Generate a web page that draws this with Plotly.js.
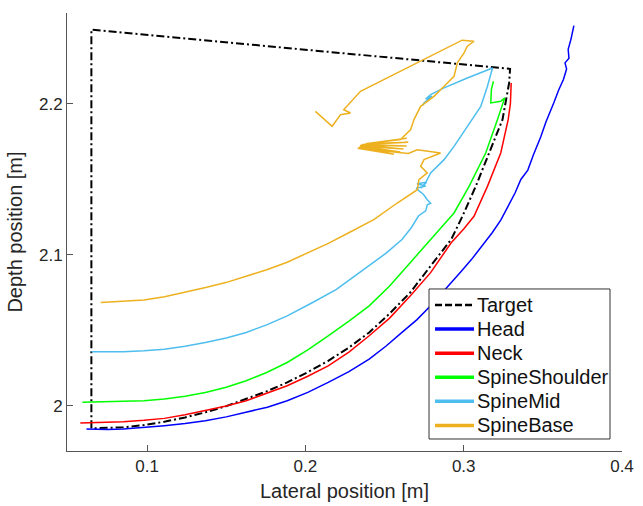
<!DOCTYPE html>
<html>
<head>
<meta charset="utf-8">
<script src="https://cdn.plot.ly/plotly-3.0.1.min.js"></script>
<style>html,body{margin:0;padding:0;background:#fff;}#chart{width:643px;height:506px;}</style>
</head>
<body>
<div id="chart"></div>
<script>
// ---- Data ----
var seriesNames = ["Target", "Head", "Neck", "SpineShoulder", "SpineMid", "SpineBase"];

var targetX = [0.0648,0.0648,0.3293,0.3287,0.3245,0.3160,0.3076,0.2992,0.2921,0.2791,0.2662,0.2532,0.2403,0.2275,0.2144,0.2015,0.1885,0.1755,0.1626,0.1500,0.1368,0.1240,0.1109,0.0980,0.0850,0.0648];
var targetY = [1.9850,2.2490,2.2230,2.2137,2.1894,2.1673,2.1452,2.1254,2.1101,2.0925,2.0749,2.0610,2.0485,2.0385,2.0297,2.0222,2.0154,2.0095,2.0044,1.9997,1.9956,1.9922,1.9894,1.9872,1.9857,1.9850];

var headX = [0.0617,0.0750,0.0850,0.0980,0.1109,0.1240,0.1368,0.1500,0.1626,0.1760,0.1885,0.2015,0.2144,0.2275,0.2403,0.2510,0.2610,0.2705,0.2791,0.2860,0.2921,0.2985,0.3050,0.3115,0.3180,0.3235,0.3283,0.3325,0.3361,0.3405,0.3440,0.3487,0.3520,0.3545,0.3570,0.3600,0.3630,0.3650,0.3640,0.3665,0.3660,0.3677,0.3690,0.3696];
var headY = [1.9846,1.9843,1.9846,1.9855,1.9868,1.9882,1.9901,1.9926,1.9956,1.9990,2.0033,2.0088,2.0154,2.0226,2.0308,2.0395,2.0485,2.0570,2.0661,2.0740,2.0815,2.0890,2.0969,2.1055,2.1145,2.1230,2.1322,2.1410,2.1498,2.1560,2.1660,2.1780,2.1880,2.1940,2.2007,2.2090,2.2160,2.2230,2.2270,2.2300,2.2360,2.2424,2.2480,2.2517];

var neckX = [0.0578,0.0700,0.0850,0.0980,0.1109,0.1240,0.1368,0.1500,0.1626,0.1755,0.1885,0.2015,0.2144,0.2275,0.2403,0.2532,0.2662,0.2791,0.2921,0.3000,0.3065,0.3150,0.3234,0.3281,0.3295,0.3300];
var neckY = [1.9885,1.9888,1.9894,1.9903,1.9916,1.9940,1.9967,1.9998,2.0033,2.0080,2.0132,2.0195,2.0264,2.0355,2.0463,2.0580,2.0727,2.0881,2.1079,2.1170,2.1254,2.1452,2.1673,2.1894,2.2000,2.2137];

var shoulderX = [0.0591,0.0720,0.0850,0.0980,0.1109,0.1240,0.1368,0.1500,0.1626,0.1755,0.1885,0.2015,0.2144,0.2275,0.2403,0.2532,0.2662,0.2791,0.2870,0.2939,0.3034,0.3139,0.3213,0.3259,0.3234,0.3171,0.3175,0.3188];
var shoulderY = [2.0022,2.0024,2.0026,2.0033,2.0044,2.0062,2.0088,2.0122,2.0165,2.0220,2.0286,2.0370,2.0463,2.0560,2.0661,2.0793,2.0947,2.1101,2.1200,2.1276,2.1452,2.1673,2.1894,2.2038,2.2015,2.2005,2.2095,2.2148];

var midX = [0.0648,0.0750,0.0850,0.0980,0.1109,0.1240,0.1368,0.1500,0.1626,0.1755,0.1885,0.2040,0.2196,0.2300,0.2400,0.2510,0.2610,0.2670,0.2714,0.2760,0.2770,0.2791,0.2770,0.2745,0.2720,0.2700,0.2760,0.2705,0.2765,0.2730,0.2759,0.2791,0.2834,0.2876,0.2939,0.3023,0.3108,0.3150,0.3182,0.3023,0.2876,0.2791,0.2760,0.2800,0.2749,0.2739];
var midY = [2.0357,2.0357,2.0357,2.0364,2.0374,2.0394,2.0418,2.0448,2.0485,2.0535,2.0595,2.0680,2.0770,2.0850,2.0925,2.1010,2.1100,2.1180,2.1256,2.1290,2.1330,2.1340,2.1364,2.1400,2.1420,2.1440,2.1455,2.1470,2.1480,2.1440,2.1475,2.1541,2.1585,2.1629,2.1717,2.1850,2.1982,2.2115,2.2236,2.2170,2.2104,2.2060,2.2030,2.2050,2.2005,2.1987];

var baseX = [0.0707,0.0850,0.0980,0.1110,0.1238,0.1370,0.1497,0.1626,0.1756,0.1885,0.2015,0.2145,0.2274,0.2432,0.2580,0.2707,0.2717,0.2770,0.2728,0.2749,0.2854,0.2707,0.2650,0.2330,0.2560,0.2340,0.2600,0.2345,0.2620,0.2350,0.2640,0.2360,0.2650,0.2380,0.2640,0.2420,0.2601,0.2665,0.2686,0.2728,0.2812,0.2876,0.2939,0.2960,0.3002,0.3023,0.3065,0.2990,0.2348,0.2242,0.2285,0.2222,0.2169,0.2063];
var baseY = [2.0683,2.0690,2.0700,2.0722,2.0750,2.0782,2.0815,2.0855,2.0900,2.0950,2.1010,2.1075,2.1145,2.1232,2.1342,2.1430,2.1497,2.1541,2.1585,2.1629,2.1673,2.1695,2.1670,2.1705,2.1665,2.1712,2.1680,2.1720,2.1700,2.1725,2.1720,2.1730,2.1745,2.1735,2.1770,2.1740,2.1762,2.1828,2.1894,2.1982,2.2048,2.2115,2.2181,2.2270,2.2336,2.2380,2.2413,2.2420,2.2082,2.1960,2.1938,2.1927,2.1850,2.1949];

var xTickVals = [0.1, 0.2, 0.3, 0.4];
var xTickText = ["0.1", "0.2", "0.3", "0.4"];
var yTickVals = [2, 2.1, 2.2];
var yTickText = ["2", "2.1", "2.2"];

// ---- Styles ----
var colors = ["#000000", "#0000FF", "#FF0000", "#00FF00", "#4DBEEE", "#EDB120"];
var xs = [targetX, headX, neckX, shoulderX, midX, baseX];
var ys = [targetY, headY, neckY, shoulderY, midY, baseY];
var FONT = "Liberation Sans, Arial, Helvetica, sans-serif";

var traces = [];
for (var i = 0; i < seriesNames.length; i++) {
  traces.push({
    x: xs[i], y: ys[i], type: "scatter", mode: "lines",
    name: seriesNames[i], showlegend: false,
    line: {color: colors[i], width: i === 0 ? 2 : 1.5, dash: i === 0 ? "8px,3px,2px,3px" : "solid"},
    hoverinfo: "skip"
  });
}

// ---- Boxed legend (MATLAB style), placed in paper coordinates ----
var legBox = {x0: 0.6523, x1: 0.9784, y0: 0.0274, y1: 0.3699};
var legRow0 = 0.3333, legRowStep = 0.0550;
var legLineX0 = 0.6631, legLineX1 = 0.7333, legTextX = 0.7345;
var shapes = [{
  type: "rect", xref: "paper", yref: "paper",
  x0: legBox.x0, x1: legBox.x1, y0: legBox.y0, y1: legBox.y1,
  fillcolor: "#fff", line: {color: "#333", width: 1}, layer: "above"
}];
var annotations = [];
for (var k = 0; k < seriesNames.length; k++) {
  var yy = legRow0 - k * legRowStep;
  shapes.push({
    type: "line", xref: "paper", yref: "paper",
    x0: legLineX0, x1: legLineX1, y0: yy, y1: yy, layer: "above",
    line: {color: colors[k], width: k === 0 ? 2.5 : 3.5, dash: k === 0 ? "7px,3px" : "solid"}
  });
  annotations.push({
    xref: "paper", yref: "paper", x: legTextX, y: yy,
    xanchor: "left", yanchor: "middle", showarrow: false,
    text: seriesNames[k], font: {family: FONT, size: 20, color: "#111"}
  });
}

var axisCommon = {
  showline: true, linecolor: "#555", linewidth: 1, mirror: false,
  showgrid: false, zeroline: false,
  ticks: "inside", ticklen: 6, tickcolor: "#555", tickwidth: 1,
  tickfont: {family: FONT, size: 17, color: "#262626"}
};

var layout = {
  width: 643, height: 506,
  margin: {l: 67, r: 21, t: 13, b: 55},
  paper_bgcolor: "#fff", plot_bgcolor: "#fff",
  showlegend: false,
  xaxis: Object.assign({}, axisCommon, {
    range: [0.0494, 0.4], tickmode: "array", tickvals: xTickVals, ticktext: xTickText,
    title: {text: "Lateral position [m]", font: {family: FONT, size: 20, color: "#262626"}, standoff: 8}
  }),
  yaxis: Object.assign({}, axisCommon, {
    range: [1.97, 2.26], tickmode: "array", tickvals: yTickVals, ticktext: yTickText,
    title: {text: "Depth position [m]", font: {family: FONT, size: 20, color: "#262626"}, standoff: 10}
  }),
  shapes: shapes,
  annotations: annotations
};

Plotly.newPlot("chart", traces, layout, {displayModeBar: false, staticPlot: true});
</script>
</body>
</html>
